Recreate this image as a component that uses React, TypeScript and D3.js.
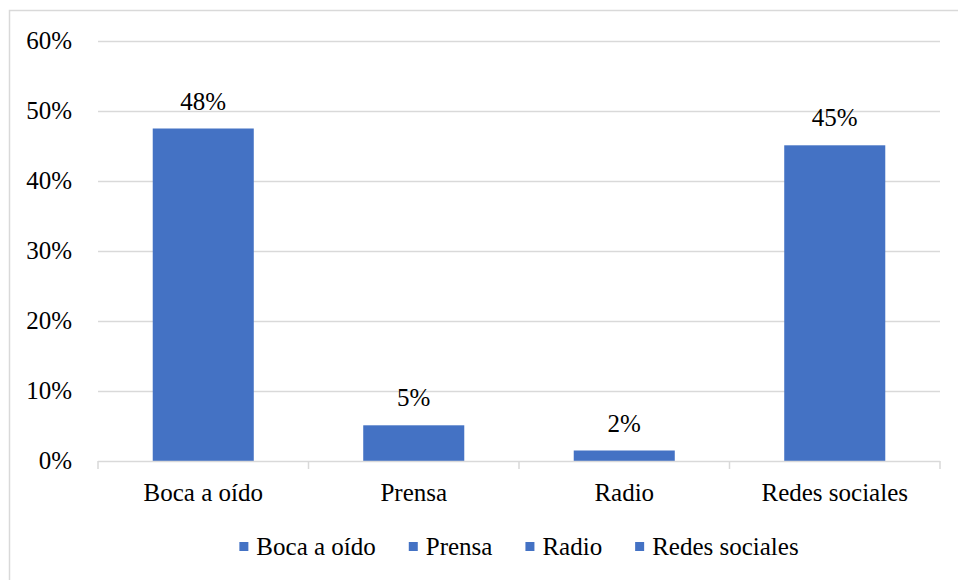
import React from 'react';
import * as d3 from 'd3';

const categories = ['Boca a oído', 'Prensa', 'Radio', 'Redes sociales'];
const values = [47.5, 5.1, 1.5, 45.1];
const yTicks = [0, 10, 20, 30, 40, 50, 60];

const WIDTH = 958;
const HEIGHT = 580;
const BAR_COLOR = '#4472C4';
const GRID_COLOR = '#d9d9d9';
const FONT = 'Times New Roman';
const FONT_SIZE = 25;

const margin = { top: 41, right: 18, bottom: 119, left: 98 };
const innerWidth = WIDTH - margin.left - margin.right;
const innerHeight = HEIGHT - margin.top - margin.bottom;

function textWidth(s: string) {
  const ctx = document.createElement('canvas').getContext('2d');
  if (!ctx) return s.length * FONT_SIZE * 0.45;
  ctx.font = `${FONT_SIZE}px "${FONT}"`;
  return ctx.measureText(s).width;
}

function App() {
  const x = d3.scaleBand()
    .domain(categories)
    .range([0, innerWidth])
    .paddingInner(0.52)
    .paddingOuter(0.26);

  const y = d3.scaleLinear()
    .domain([0, 60])
    .range([innerHeight, 0]);

  const step = innerWidth / categories.length;

  // legend layout
  const sq = 9;
  const gapSqText = 8;
  const gapItems = 33;
  const widths = categories.map(textWidth);
  const total = d3.sum(widths) + categories.length * (sq + gapSqText) + (categories.length - 1) * gapItems;
  const legendX: number[] = [];
  let lx = margin.left + innerWidth / 2 - total / 2;
  categories.forEach((c, i) => {
    legendX.push(lx);
    lx += sq + gapSqText + widths[i] + gapItems;
  });

  return (
    <svg
      width={WIDTH}
      height={HEIGHT}
      style={{ position: 'absolute', left: 0, top: 0, background: '#fff' }}
    >
      {/* outer frame: only left and top edges fall inside the picture */}
      <rect x={9.5} y={10.5} width={WIDTH} height={HEIGHT} fill="none" stroke={GRID_COLOR} strokeWidth={1.5} />

      <g transform={`translate(${margin.left},${margin.top})`}>
        {yTicks.filter(t => t > 0).map(t => (
          <line key={`g${t}`} x1={0} x2={innerWidth}
            y1={Math.round(y(t)) + 0.5} y2={Math.round(y(t)) + 0.5}
            stroke={GRID_COLOR} strokeWidth={1.5} />
        ))}
        {yTicks.map(t => (
          <text key={`y${t}`} x={-26} y={y(t) + 8} textAnchor="end"
            fontFamily={FONT} fontSize={FONT_SIZE}>{`${t}%`}</text>
        ))}

        {values.map((v, i) => (
          <rect key={`b${i}`} x={x(categories[i]) || 0} y={y(v)}
            width={x.bandwidth()} height={innerHeight - y(v)} fill={BAR_COLOR} />
        ))}
        {values.map((v, i) => (
          <text key={`v${i}`} x={(x(categories[i]) || 0) + x.bandwidth() / 2} y={y(v) - 19}
            textAnchor="middle" fontFamily={FONT} fontSize={FONT_SIZE}>
            {`${Math.round(v)}%`}
          </text>
        ))}

        <line x1={0} x2={innerWidth} y1={innerHeight + 0.5} y2={innerHeight + 0.5}
          stroke={GRID_COLOR} strokeWidth={1.5} />
        {d3.range(categories.length + 1).map(k => (
          <line key={`t${k}`} x1={k * step} x2={k * step} y1={innerHeight} y2={innerHeight + 8}
            stroke={GRID_COLOR} strokeWidth={1.5} />
        ))}
        {categories.map(c => (
          <text key={`c${c}`} x={(x(c) || 0) + x.bandwidth() / 2} y={innerHeight + 40}
            textAnchor="middle" fontFamily={FONT} fontSize={FONT_SIZE}>{c}</text>
        ))}
      </g>

      <g transform="translate(0,555)">
        {categories.map((c, i) => (
          <g key={`l${c}`}>
            <rect x={legendX[i]} y={-13} width={sq} height={sq} fill={BAR_COLOR} />
            <text x={legendX[i] + sq + gapSqText} y={0}
              fontFamily={FONT} fontSize={FONT_SIZE}>{c}</text>
          </g>
        ))}
      </g>
    </svg>
  );
}

export default App;
